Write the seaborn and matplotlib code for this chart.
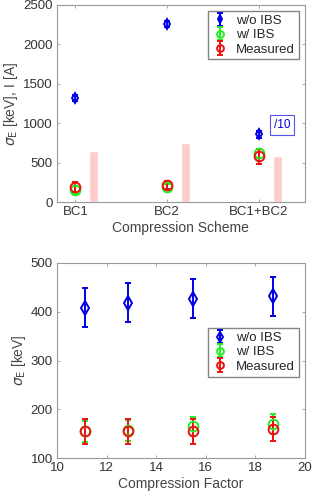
import numpy as np
import seaborn as sns
import matplotlib.pyplot as plt

# top panel: per compression scheme
schemes = ["BC1", "BC2", "BC1+BC2"]
top_wo_ibs = [1320, 2260, 860]
top_wo_ibs_err = [40, 40, 40]
top_w_ibs = [160, 190, 620]
top_w_ibs_err = [50, 40, 60]
top_meas = [190, 220, 580]
top_meas_err = [60, 50, 90]
peak_current = [650, 750, 580]

# bottom panel: vs compression factor
comp_factor = [11.15, 12.85, 15.5, 18.7]
bot_wo_ibs = [408, 418, 427, 432]
bot_wo_ibs_err = [40, 40, 40, 40]
bot_w_ibs = [155, 157, 165, 170]
bot_w_ibs_err = [22, 22, 20, 20]
bot_meas = [155, 155, 155, 160]
bot_meas_err = [25, 25, 25, 25]

sns.set_style("white")
plt.rcParams['font.family'] = ['Liberation Sans', 'DejaVu Sans']
plt.rcParams['mathtext.fontset'] = 'dejavusans'

BLUE, GREEN, RED = '#0000e6', '#22ee22', '#ee1111'
GRAY = '#444444'

fig = plt.figure(figsize=(3.13, 4.98), dpi=100)
ax1 = fig.add_axes([0.182, 0.594, 0.792, 0.396])
ax2 = fig.add_axes([0.182, 0.080, 0.792, 0.392])


def draw_series(ax, x, y, err, color, marker, label, ms):
    ax.errorbar(x, y, yerr=err, fmt=marker, color=color, mfc='none', mec=color,
                ms=ms, mew=1.4, elinewidth=1.4, capsize=2.5, capthick=1.4,
                label=label, zorder=3)


legend_kw = dict(loc='upper right', fontsize=9.5, frameon=True, fancybox=False,
                 edgecolor='#666666', borderpad=0.3, labelspacing=0.15,
                 handlelength=1.2, handletextpad=0.6, markerscale=0.7,
                 borderaxespad=0)

xpos = np.arange(1, len(schemes) + 1)
ax1.bar(xpos + 0.2, peak_current, width=0.1, color='#ffcccc', zorder=1)
draw_series(ax1, xpos, top_wo_ibs, top_wo_ibs_err, BLUE, 'd', 'w/o IBS', 5.5)
draw_series(ax1, xpos, top_w_ibs, top_w_ibs_err, GREEN, 'o', 'w/ IBS', 7)
draw_series(ax1, xpos, top_meas, top_meas_err, RED, 'o', 'Measured', 7)
ax1.set_xlim(0.8, 3.5)
ax1.set_ylim(0, 2500)
ax1.set_xticks(xpos)
ax1.set_xticklabels(schemes)
ax1.set_yticks(range(0, 2501, 500))
ax1.set_xlabel('Compression Scheme', fontsize=10, color=GRAY, labelpad=2)
ax1.set_ylabel(r'$\sigma_{\rm E}$ [keV], I [A]', fontsize=10, color=GRAY, labelpad=2)
ax1.text(3.25, 980, '/10', color=BLUE, fontsize=8.5, ha='center', va='center',
         bbox=dict(boxstyle='square,pad=0.35', fc='white', ec='#5555ee', lw=0.8))
ax1.legend(bbox_to_anchor=(0.975, 0.97), **legend_kw)

draw_series(ax2, comp_factor, bot_wo_ibs, bot_wo_ibs_err, BLUE, 'd', 'w/o IBS', 7)
draw_series(ax2, comp_factor, bot_w_ibs, bot_w_ibs_err, GREEN, 'o', 'w/ IBS', 7)
draw_series(ax2, comp_factor, bot_meas, bot_meas_err, RED, 'o', 'Measured', 7)
ax2.set_xlim(10, 20)
ax2.set_ylim(100, 500)
ax2.set_xticks(range(10, 21, 2))
ax2.set_yticks(range(100, 501, 100))
ax2.set_xlabel('Compression Factor', fontsize=10, color=GRAY, labelpad=2)
ax2.set_ylabel(r'$\sigma_{\rm E}$ [keV]', fontsize=10, color=GRAY, labelpad=2)
ax2.legend(bbox_to_anchor=(0.975, 0.667), **legend_kw)

for ax in (ax1, ax2):
    for s in ax.spines.values():
        s.set_color('#999999')
        s.set_linewidth(0.8)
    ax.tick_params(direction='in', length=2.5, width=0.6, colors='#999999',
                   labelcolor='#333333', labelsize=9.5, top=True, right=True,
                   bottom=True, left=True, pad=3)

fig.savefig('out.png', dpi=100)
